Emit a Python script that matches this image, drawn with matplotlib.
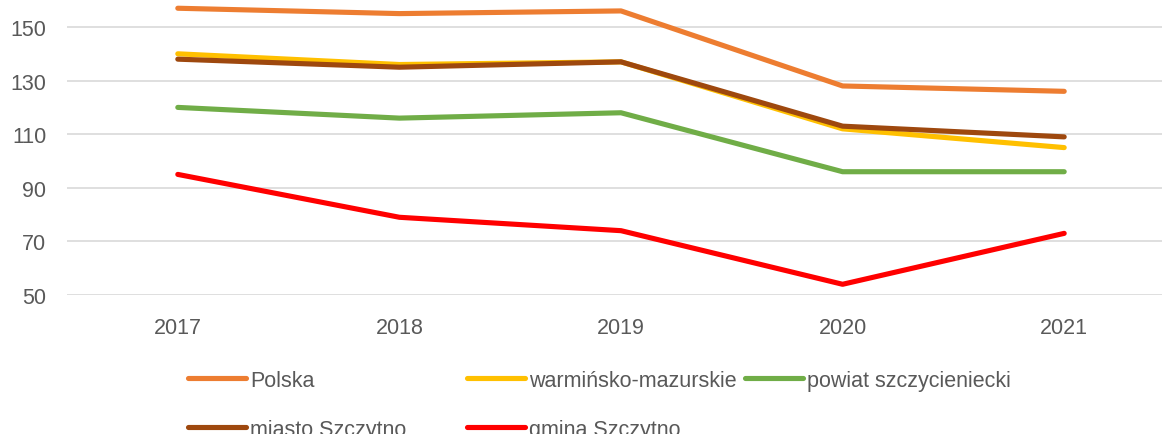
import matplotlib
matplotlib.use('Agg')
import matplotlib.pyplot as plt
from matplotlib.lines import Line2D

plt.rcParams['font.family'] = ['Liberation Sans', 'DejaVu Sans']

years = ['2017', '2018', '2019', '2020', '2021']
polska = [157, 155, 156, 128, 126]
warminsko = [140, 136, 137, 112, 105]
powiat = [120, 116, 118, 96, 96]
miasto = [138, 135, 137, 113, 109]
gmina = [95, 79, 74, 54, 73]

names = ['Polska', 'warmińsko-mazurskie', 'powiat szczycieniecki',
         'miasto Szczytno', 'gmina Szczytno']
series = [polska, warminsko, powiat, miasto, gmina]
colors = ['#ED7D31', '#FFC000', '#70AD47', '#9E480E', '#FF0000']

fig = plt.figure(figsize=(11.62, 4.35), dpi=100)
ax = fig.add_axes([67/1162, 139/435, 1108/1162, 321.6/435])

x = range(len(years))
for vals, c, n in zip(series, colors, names):
    ax.plot(x, vals, color=c, lw=3.7, solid_capstyle='round',
            solid_joinstyle='round', label=n)

ax.set_xlim(-0.5, 4.5)
ax.set_ylim(50, 170)
ax.set_yticks(range(50, 151, 20))
ax.set_xticks(list(x))
ax.set_xticklabels(years)
ax.grid(axis='y', color='#d9d9d9', lw=1.2)
ax.axhline(170, color='#d9d9d9', lw=1.2)
ax.set_axisbelow(True)
for s in ax.spines.values():
    s.set_visible(False)
ax.tick_params(length=0, labelsize=15.5, labelcolor='#595959')
ax.tick_params(axis='y', pad=15)
ax.tick_params(axis='x', pad=16)

# legend: excel-style rows, one legend per column
cols = [([0, 3], 188), ([1, 4], 467), ([2], 745)]
for idx, xpos in cols:
    h = [Line2D([], [], color=colors[i], lw=3.7, solid_capstyle='round') for i in idx]
    fig.legend(h, [names[i] for i in idx], loc='upper left',
               bbox_to_anchor=(xpos/1162, 1 - 371/435), frameon=False,
               fontsize=15.5, labelcolor='#595959', handlelength=2.7,
               handletextpad=0.2, labelspacing=1.3, borderpad=0,
               borderaxespad=0)

plt.savefig('out.png', dpi=100)
